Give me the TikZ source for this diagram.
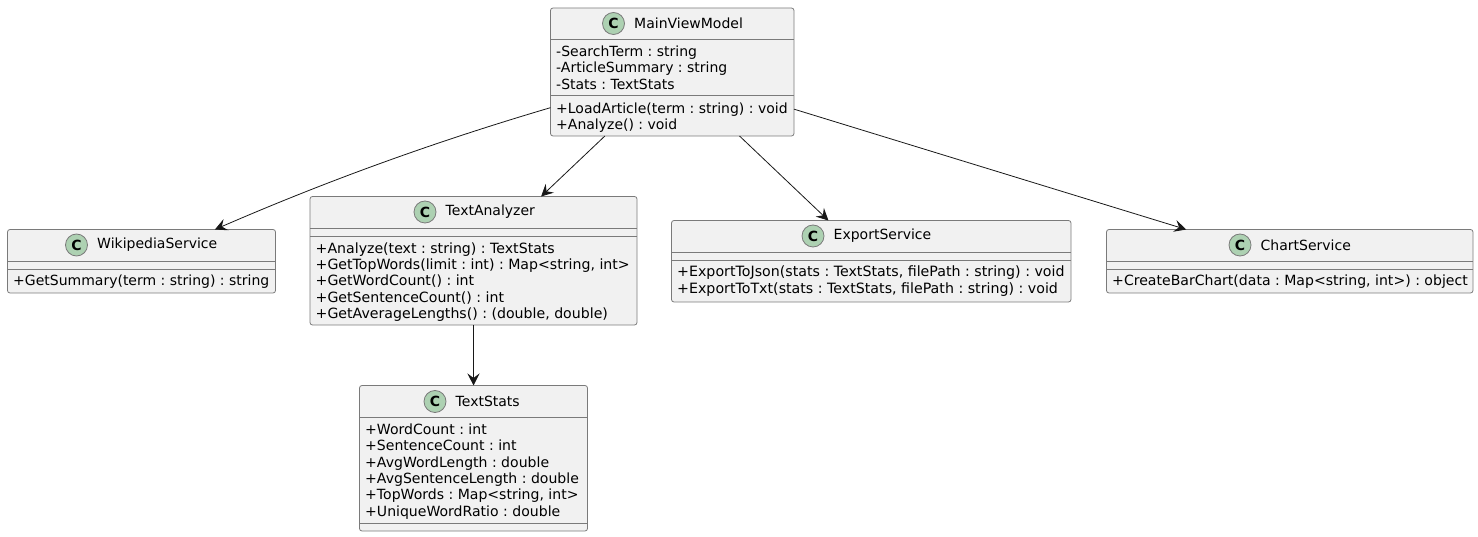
\documentclass[tikz,border=0pt]{standalone}
\usepackage{fontspec}
\setmainfont{DejaVu Sans}
\usetikzlibrary{arrows.meta,calc}
\frenchspacing
\definecolor{boxfill}{HTML}{F1F1F1}
\definecolor{boxline}{HTML}{7A7A7A}
\definecolor{arrowline}{HTML}{181818}
\definecolor{iconfill}{HTML}{ADD1B2}
\tikzset{
	classbox/.style={draw=boxline,fill=boxfill,line width=0.8pt,rounded corners=2.5pt,inner sep=0,outer sep=0,anchor=north west},
	sepline/.style={draw=boxline,line width=0.8pt},
	icon/.style={circle,draw=boxline,fill=iconfill,line width=0.8pt,minimum size=22pt,inner sep=0,font=\fontsize{14}{14}\selectfont\bfseries},
	title/.style={anchor=west,inner sep=0,font=\fontsize{14}{16}\selectfont},
	members/.style={anchor=north west,inner sep=0,align=left,font=\fontsize{#1}{16.35}\selectfont},
	members/.default=14,
	assoc/.style={draw=arrowline,line width=0.8pt,-{Stealth[length=12pt,width=12pt,inset=4.5pt]}},
}
\begin{document}
\begin{tikzpicture}[x=1pt,y=-1pt]
	\useasboundingbox (0,0) rectangle (1478,537);

	% main view model
	\node[classbox,minimum width=243.5pt,minimum height=128pt] (main) at (550.5,8) {};
	\draw[sepline] (main.west |- 0,39.5) -- (main.east |- 0,39.5);
	\draw[sepline] (main.west |- 0,95.5) -- (main.east |- 0,95.5);
	\node[icon] (mainicon) at (613.5,23.5) {C};
	\node[title] (maintitle) at (634,23.5) {MainViewModel};
	\node[members] (mainattr) at (556,45.7) {-SearchTerm : string\\-ArticleSummary : string\\-Stats : TextStats};
	\node[members] (mainops) at (556,102.5) {+LoadArticle(term : string) : void\\+Analyze() : void};

	% services
	\node[classbox,minimum width=268pt,minimum height=63.5pt] (wiki) at (7.5,229.5) {};
	\draw[sepline] (wiki.west |- 0,261) -- (wiki.east |- 0,261);
	\draw[sepline] (wiki.west |- 0,269) -- (wiki.east |- 0,269);
	\node[icon] (wikiicon) at (76.5,245) {C};
	\node[title] (wikititle) at (97,245) {WikipediaService};
	\node[members] (wikiops) at (13,275) {+GetSummary(term : string) : string};

	\node[classbox,minimum width=327pt,minimum height=128.5pt] (analyzer) at (310,196.5) {};
	\draw[sepline] (analyzer.west |- 0,228) -- (analyzer.east |- 0,228);
	\draw[sepline] (analyzer.west |- 0,236) -- (analyzer.east |- 0,236);
	\node[icon] (analyzericon) at (425,212) {C};
	\node[title] (analyzertitle) at (445.5,212) {TextAnalyzer};
	\node[members=14.13] (analyzerops) at (315.5,242.3) {+Analyze(text : string) : TextStats\\+GetTopWords(limit : int) : Map<string, int>\\+GetWordCount() : int\\+GetSentenceCount() : int\\+GetAverageLengths() : (double, double)};

	\node[classbox,minimum width=399.5pt,minimum height=81.5pt] (export) at (671.5,220.5) {};
	\draw[sepline] (export.west |- 0,252) -- (export.east |- 0,252);
	\draw[sepline] (export.west |- 0,260) -- (export.east |- 0,260);
	\node[icon] (exporticon) at (813,236) {C};
	\node[title] (exporttitle) at (833.5,236) {ExportService};
	\node[members=14.2] (exportops) at (677,266) {+ExportToJson(stats : TextStats, filePath : string) : void\\+ExportToTxt(stats : TextStats, filePath : string) : void};

	\node[classbox,minimum width=366.5pt,minimum height=63.5pt] (chart) at (1106.5,229.5) {};
	\draw[sepline] (chart.west |- 0,261) -- (chart.east |- 0,261);
	\draw[sepline] (chart.west |- 0,269) -- (chart.east |- 0,269);
	\node[icon] (charticon) at (1240,245) {C};
	\node[title] (charttitle) at (1260.5,245) {ChartService};
	\node[members=14.07] (chartops) at (1112,275) {+CreateBarChart(data : Map<string, int>) : object};

	% stats
	\node[classbox,minimum width=228pt,minimum height=145.5pt] (stats) at (359.5,385.5) {};
	\draw[sepline] (stats.west |- 0,417.5) -- (stats.east |- 0,417.5);
	\draw[sepline] (stats.west |- 0,523) -- (stats.east |- 0,523);
	\node[icon] (statsicon) at (435,401.5) {C};
	\node[title] (statstitle) at (455.5,401.5) {TextStats};
	\node[members=14.05] (statsattr) at (365,423.5) {+WordCount : int\\+SentenceCount : int\\+AvgWordLength : double\\+AvgSentenceLength : double\\+TopWords : Map<string, int>\\+UniqueWordRatio : double};

	% connectors
	\draw[assoc] (main) .. controls (400,152) and (290,197) .. (wiki);
	\draw[assoc] (main) -- (analyzer);
	\draw[assoc] (main) -- (export);
	\draw[assoc] (main) -- (chart);
	\draw[assoc] (analyzer) -- (stats);
\end{tikzpicture}
\end{document}
